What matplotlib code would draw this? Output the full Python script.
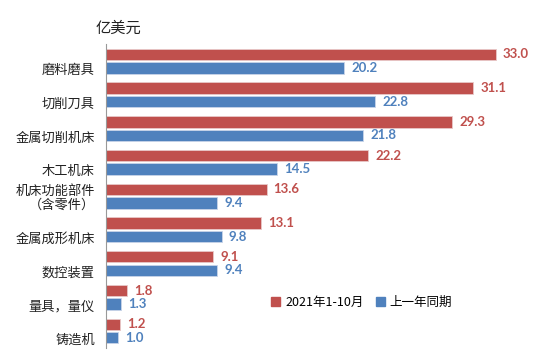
import matplotlib
matplotlib.use("Agg")
import matplotlib.pyplot as plt
from matplotlib.patches import Patch
import numpy as np

plt.rcParams['font.family'] = ['Noto Sans CJK SC', 'DejaVu Sans']

categories = ["磨料磨具", "切削刀具", "金属切削机床", "木工机床", "机床功能部件\n（含零件）",
              "金属成形机床", "数控装置", "量具，量仪", "铸造机"]
cur_vals = [33.0, 31.1, 29.3, 22.2, 13.6, 13.1, 9.1, 1.8, 1.2]
prev_vals = [20.2, 22.8, 21.8, 14.5, 9.4, 9.8, 9.4, 1.3, 1.0]
series_names = ["2021年1-10月", "上一年同期"]

red = "#C0504D"
blue = "#4F81BD"

fig = plt.figure(figsize=(5.38, 3.59), dpi=100)
ax = fig.add_axes([0.197, 0.031, 0.79, 0.846])

y = np.arange(len(categories))
h = 0.34
ax.barh(y - 0.2, cur_vals, height=h, color=red, edgecolor="#e8c8c8", linewidth=0.6)
ax.barh(y + 0.2, prev_vals, height=h, color=blue, edgecolor="#c8d4e8", linewidth=0.6)

# data labels
for i in range(len(categories)):
    ax.text(cur_vals[i] + 0.6, y[i] - 0.2, f"{cur_vals[i]:.1f}", color=red,
            va="center", ha="left", fontsize=9.5, fontweight="bold", family="Lato")
    ax.text(prev_vals[i] + 0.6, y[i] + 0.2, f"{prev_vals[i]:.1f}", color=blue,
            va="center", ha="left", fontsize=9.5, fontweight="bold", family="Lato")

ax.set_xlim(0, 36)
ax.set_ylim(8.5, -0.5)
ax.set_yticks(y + 0.48)
ax.set_yticklabels(categories, fontsize=9.5, color="#222222", linespacing=1.1)
for lbl in ax.get_yticklabels():
    lbl.set_va("bottom")
    lbl.set_ha("right")
ax.tick_params(axis="y", length=0, pad=8)
ax.set_xticks([])
for s in ["top", "right", "bottom"]:
    ax.spines[s].set_visible(False)
ax.spines["left"].set_color("#999999")
ax.spines["left"].set_linewidth(0.8)

fig.text(96 / 538, 1 - 28 / 359, "亿美元", fontsize=11, ha="left", va="center", color="#222222")

handles = [Patch(color=red), Patch(color=blue)]
ax.legend(handles, series_names, loc="center left", bbox_to_anchor=(260 / 538, 1 - 302 / 359),
          bbox_transform=fig.transFigure, frameon=False, ncol=2, fontsize=9,
          handlelength=0.7, handleheight=0.7, handletextpad=0.4, columnspacing=1.0)

plt.savefig("out.png", dpi=100)
